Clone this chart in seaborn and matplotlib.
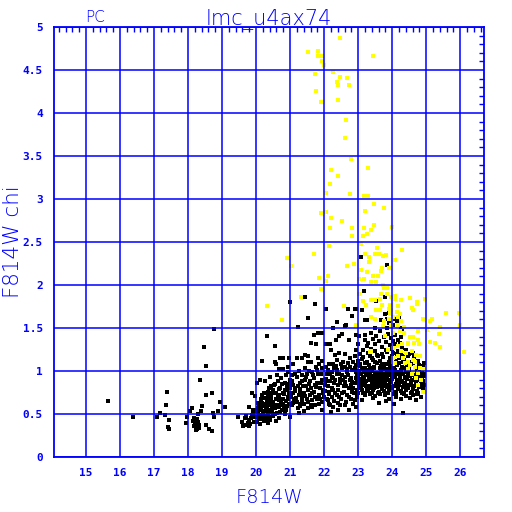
import matplotlib
matplotlib.use("Agg")
import matplotlib.pyplot as plt
from matplotlib.ticker import MultipleLocator, FixedLocator
import seaborn as sns
import pandas as pd

sns.set_style("white")
plt.rcParams['font.family'] = ['DejaVu Sans']

BLUE = "#0000ff"

# ---------------- data (F814W magnitude, chi) ----------------
black_bright = [
    (15.66, 0.655), (16.39, 0.47), (17.37, 0.76), (17.34, 0.61), (17.18, 0.51), (17.08, 0.47),
    (17.33, 0.49), (17.43, 0.43), (17.40, 0.35), (17.43, 0.33), (17.96, 0.47), (17.94, 0.40),
    (18.06, 0.53), (18.11, 0.57), (18.35, 0.895), (18.52, 0.72), (18.70, 0.75), (18.40, 0.59),
    (18.39, 0.54), (18.30, 0.50), (18.15, 0.42), (18.20, 0.38), (18.22, 0.35), (18.25, 0.33),
    (18.18, 0.45), (18.28, 0.41), (18.24, 0.31), (18.32, 0.37), (18.27, 0.44), (18.21, 0.40),
    (18.33, 0.34), (18.19, 0.36), (18.52, 0.375), (18.62, 0.325), (18.70, 0.305), (18.72, 0.51),
    (18.76, 0.465), (18.88, 0.535), (18.93, 0.64), (19.08, 0.58), (18.76, 1.49), (18.47, 1.28),
    (18.53, 1.06), (19.46, 0.46), (19.58, 0.41), (19.61, 0.36), (19.67, 0.45), (19.70, 0.48),
    (19.68, 0.37), (19.78, 0.36), (19.79, 0.58), (19.87, 0.74), (19.97, 0.71), (19.86, 0.45),
    (19.90, 0.50), (19.93, 0.41), (19.80, 0.43), (19.75, 0.40), (19.95, 0.47), (19.98, 0.55),
    (19.83, 0.38),
]

black_20_21 = [
    (20.31, 1.41), (20.56, 1.29), (20.80, 1.15), (20.71, 1.15), (20.98, 1.15), (20.56, 1.11),
    (20.58, 1.08), (20.18, 1.12), (20.66, 1.02), (20.80, 1.02), (20.95, 0.99), (20.61, 0.95),
    (20.41, 0.93), (20.26, 0.88), (20.12, 0.90), (20.02, 0.86), (20.22, 0.74),
    (20.36, 0.76), (20.51, 0.78), (20.71, 0.80), (20.85, 0.86), (21.00, 0.90), (20.95, 0.70),
    (20.80, 0.68), (20.66, 0.66), (20.51, 0.64), (20.36, 0.62), (20.22, 0.59), (20.07, 0.57),
    (19.92, 0.55), (19.87, 0.49), (20.02, 0.47), (20.17, 0.45), (20.31, 0.47), (20.41, 0.43),
    (20.61, 0.51), (20.75, 0.55), (20.90, 0.59), (20.66, 0.45), (21.00, 0.47), (20.80, 0.62),
    (20.05, 0.52), (20.10, 0.49), (20.15, 0.55), (20.20, 0.51), (20.25, 0.48), (20.30, 0.53),
    (20.35, 0.50), (20.12, 0.44), (20.04, 0.41), (20.22, 0.42), (20.28, 0.57), (20.40, 0.55),
    (20.45, 0.60), (20.48, 0.52), (20.55, 0.57), (20.58, 0.68), (20.62, 0.61), (20.68, 0.72),
    (20.72, 0.63), (20.78, 0.75), (20.82, 0.58), (20.88, 0.65), (20.92, 0.78), (20.96, 0.62),
    (20.44, 0.70), (20.33, 0.66), (20.18, 0.63), (20.09, 0.60), (20.52, 0.84), (20.64, 0.88),
    (20.74, 0.92), (20.88, 0.95), (20.95, 1.05), (20.38, 0.80), (20.27, 0.69), (20.15, 0.67),
    (20.50, 0.48), (20.70, 0.52), (20.85, 0.50), (20.12, 0.38), (20.35, 0.40), (20.58, 0.42),
    (20.90, 0.83), (20.60, 0.74), (20.45, 0.82),
]

black_fill_20_22 = [
    (20.03, 0.53), (20.08, 0.45), (20.13, 0.58), (20.19, 0.48), (20.24, 0.54), (20.29, 0.44),
    (20.33, 0.59), (20.38, 0.47), (20.43, 0.65), (20.47, 0.56), (20.53, 0.61), (20.57, 0.50),
    (20.63, 0.70), (20.67, 0.58), (20.73, 0.67), (20.77, 0.60), (20.83, 0.73), (20.87, 0.55),
    (20.93, 0.68), (20.97, 0.75), (20.06, 0.63), (20.16, 0.72), (20.26, 0.62), (20.36, 0.71),
    (20.46, 0.75), (20.56, 0.85), (20.66, 0.79), (20.76, 0.85), (20.86, 0.78), (20.96, 0.85),
    (21.03, 0.70), (21.08, 0.63), (21.13, 0.77), (21.18, 0.69), (21.23, 0.82), (21.28, 0.75),
    (21.33, 0.62), (21.38, 0.83), (21.43, 0.71), (21.47, 0.93), (21.52, 0.64), (21.57, 0.85),
    (21.63, 0.74), (21.67, 0.95), (21.72, 0.70), (21.77, 0.81), (21.82, 0.97), (21.87, 0.68),
    (21.92, 0.86), (21.97, 0.78), (21.05, 0.88), (21.15, 0.97), (21.35, 0.88), (21.55, 1.00),
    (21.65, 0.58), (21.85, 1.08), (21.42, 0.54), (21.22, 0.57),
]

black_21_23 = [
    (21.69, 1.42), (21.81, 1.44), (21.95, 1.44), (21.61, 1.32), (21.75, 1.31), (22.06, 1.31),
    (22.16, 1.31), (22.45, 1.41), (22.53, 1.43), (22.73, 1.36), (22.94, 1.42), (22.35, 1.36),
    (21.20, 1.15), (21.34, 1.15), (21.44, 1.19), (21.54, 1.17), (21.54, 1.11), (21.08, 1.08),
    (21.83, 1.15), (21.93, 1.12), (22.20, 1.24), (22.32, 1.19), (22.45, 1.21), (22.62, 1.20),
    (22.76, 1.15), (22.91, 1.17), (22.94, 1.24), (22.13, 1.08), (22.25, 1.08), (22.37, 1.13),
    (22.55, 1.11), (22.70, 1.09), (22.86, 1.11), (21.20, 0.93), (21.34, 0.95), (21.49, 0.97),
    (21.64, 0.99), (21.78, 1.01), (21.93, 1.03), (22.08, 0.97), (22.23, 0.99), (22.37, 1.01),
    (22.52, 1.03), (22.67, 0.99), (22.81, 1.01), (22.96, 0.97), (21.10, 0.84), (21.29, 0.86),
    (21.44, 0.90), (21.59, 0.88), (21.74, 0.84), (21.88, 0.80), (22.03, 0.84), (22.18, 0.88),
    (22.32, 0.90), (22.47, 0.91), (22.62, 0.93), (22.76, 0.90), (22.91, 0.86), (22.42, 0.84),
    (22.57, 0.82), (22.72, 0.80), (22.27, 0.78), (22.13, 0.76), (21.98, 0.74), (21.84, 0.72),
    (21.69, 0.76), (21.54, 0.78), (21.40, 0.74), (21.25, 0.72), (21.10, 0.74), (21.05, 0.60),
    (21.20, 0.64), (21.34, 0.66), (21.49, 0.68), (21.64, 0.66), (21.78, 0.68), (21.93, 0.64),
    (22.08, 0.68), (22.23, 0.70), (22.37, 0.72), (22.52, 0.74), (22.67, 0.72), (22.81, 0.76),
    (22.96, 0.70), (22.42, 0.55), (22.72, 0.55), (21.25, 0.51), (21.29, 0.59), (21.54, 0.57),
    (21.73, 0.60), (22.18, 0.60), (22.86, 0.62), (21.15, 0.80), (21.30, 0.79), (21.48, 0.82),
    (21.62, 0.80), (21.80, 0.86), (21.95, 0.90), (22.10, 0.83), (22.28, 0.86), (22.45, 0.96),
    (22.60, 0.87), (22.78, 0.84), (22.93, 0.92), (21.35, 0.70), (21.58, 0.72), (21.70, 0.92),
    (21.90, 0.96), (22.05, 0.91), (22.22, 0.93), (22.40, 0.78), (22.55, 0.89), (22.70, 0.95),
    (22.85, 0.80), (22.98, 0.78), (21.12, 0.68), (21.40, 0.62), (21.60, 0.61), (21.85, 0.62),
    (22.00, 0.70), (22.15, 0.73), (22.30, 0.65), (22.50, 0.68), (22.65, 0.64), (22.80, 0.68),
    (22.90, 1.03), (22.60, 1.05), (22.35, 1.06), (22.05, 1.05), (21.75, 1.05), (21.45, 1.03),
    (21.25, 1.00), (21.60, 1.10), (22.48, 0.60), (22.20, 0.52), (21.95, 0.55), (22.95, 0.58),
    (21.00, 0.80), (21.05, 0.95),
]

black_fill_22_23 = [
    (22.02, 0.77), (22.07, 0.88), (22.12, 0.66), (22.17, 0.96), (22.22, 0.80), (22.27, 0.92),
    (22.32, 0.74), (22.38, 0.97), (22.43, 0.70), (22.48, 0.86), (22.53, 0.95), (22.58, 0.76),
    (22.63, 0.83), (22.68, 1.02), (22.73, 0.70), (22.78, 0.92), (22.83, 0.87), (22.88, 0.74),
    (22.93, 0.99), (22.98, 0.88), (22.10, 1.01), (22.30, 1.03), (22.50, 1.08), (22.75, 1.05),
    (22.95, 1.07), (22.40, 0.63), (22.60, 0.60), (22.90, 0.66), (22.15, 0.62), (22.25, 0.58),
]

black_sparse_high = [
    (21.44, 1.86), (21.00, 1.80), (21.74, 1.78), (22.06, 1.72), (22.69, 1.72), (22.91, 1.72),
    (22.81, 1.64), (21.52, 1.62), (22.38, 1.57), (22.65, 1.53), (22.60, 1.52), (21.23, 1.51),
    (22.25, 1.50), (23.08, 2.33), (23.86, 2.23), (23.17, 1.93), (23.54, 1.81), (23.80, 1.86),
    (23.10, 1.71), (22.93, 1.72), (23.90, 1.68), (23.78, 1.66), (23.84, 1.60), (23.67, 1.59),
    (23.25, 1.59), (23.20, 1.59), (24.08, 1.60), (24.13, 1.58), (24.21, 1.62), (23.90, 1.56),
    (24.03, 1.54), (23.49, 1.50), (23.86, 1.50), (24.25, 1.50),
]

black_core = [
    (23.05, 1.08), (23.31, 1.07), (23.56, 1.09), (23.71, 1.08), (23.94, 1.06), (24.21, 1.09),
    (24.44, 1.07), (24.61, 1.08), (24.86, 1.06), (23.11, 1.04), (23.21, 1.03), (23.46, 1.05),
    (23.63, 1.04), (23.79, 1.02), (24.06, 1.04), (24.29, 1.05), (24.51, 1.03), (24.69, 1.04),
    (24.91, 1.05), (23.02, 1.00), (23.16, 0.99), (23.28, 1.01), (23.41, 1.00), (23.52, 0.98),
    (23.68, 1.01), (23.86, 0.99), (23.97, 1.00), (24.12, 0.98), (24.26, 1.01), (24.41, 0.99),
    (24.56, 1.00), (24.73, 0.98), (24.88, 1.01), (23.08, 0.97), (23.23, 0.96), (23.35, 0.98),
    (23.49, 0.97), (23.61, 0.95), (23.75, 0.97), (23.91, 0.96), (24.03, 0.98), (24.17, 0.96),
    (24.33, 0.97), (24.48, 0.95), (24.63, 0.97), (24.81, 0.96), (24.95, 0.94), (23.00, 0.94),
    (23.13, 0.93), (23.26, 0.95), (23.39, 0.94), (23.55, 0.92), (23.70, 0.94), (23.82, 0.93),
    (23.95, 0.95), (24.09, 0.93), (24.22, 0.94), (24.37, 0.92), (24.52, 0.94), (24.67, 0.93),
    (24.84, 0.92), (23.05, 0.91), (23.18, 0.90), (23.33, 0.91), (23.45, 0.89), (23.58, 0.91),
    (23.73, 0.90), (23.88, 0.89), (24.00, 0.91), (24.15, 0.90), (24.28, 0.88), (24.43, 0.91),
    (24.58, 0.89), (24.74, 0.90), (24.91, 0.88), (23.10, 0.87), (23.24, 0.88), (23.40, 0.86),
    (23.52, 0.87), (23.66, 0.88), (23.80, 0.86), (23.93, 0.87), (24.10, 0.85), (24.25, 0.87),
    (24.38, 0.86), (24.55, 0.88), (24.70, 0.86), (24.86, 0.87), (23.02, 0.85), (23.15, 0.84),
    (23.30, 0.83), (23.48, 0.85), (23.62, 0.84), (23.78, 0.83), (23.90, 0.84), (24.05, 0.82),
    (24.20, 0.84), (24.35, 0.83), (24.50, 0.84), (24.65, 0.82), (24.80, 0.83), (24.95, 0.84),
    (23.08, 0.81), (23.22, 0.82), (23.38, 0.80), (23.55, 0.81), (23.70, 0.79), (23.85, 0.81),
    (24.00, 0.80), (24.18, 0.79), (24.32, 0.81), (24.48, 0.80), (24.62, 0.79), (24.78, 0.81),
    (23.12, 0.78), (23.30, 0.77), (23.45, 0.78), (23.60, 0.76), (23.76, 0.77), (23.92, 0.78),
    (24.08, 0.76), (24.25, 0.77), (24.42, 0.78), (24.58, 0.76), (24.72, 0.77), (24.90, 0.79),
    (23.00, 0.75), (23.20, 0.74), (23.42, 0.75), (23.65, 0.73), (23.88, 0.74), (24.12, 0.75),
    (24.35, 0.73), (24.55, 0.74), (24.76, 0.75), (23.20, 0.72), (23.50, 0.71), (23.80, 0.72),
    (24.10, 0.70), (24.40, 0.71), (24.62, 0.72), (24.85, 0.70), (23.44, 0.69), (23.90, 0.68),
    (24.52, 0.69), (23.10, 0.66), (23.83, 0.65), (24.27, 0.67), (24.70, 0.66), (23.60, 0.63),
    (24.05, 0.62), (24.32, 0.51), (23.00, 1.12), (23.25, 1.11), (23.44, 1.13), (23.65, 1.12),
    (23.90, 1.10), (24.10, 1.12), (24.35, 1.13), (24.55, 1.11), (24.75, 1.12), (23.15, 1.16),
    (23.40, 1.15), (23.59, 1.17), (23.74, 1.16), (24.00, 1.18), (24.20, 1.15), (24.47, 1.17),
    (24.65, 1.16), (23.05, 1.20), (23.30, 1.21), (23.55, 1.19), (23.85, 1.22), (24.03, 1.21),
    (24.27, 1.19), (24.50, 1.20), (23.15, 1.25), (23.38, 1.26), (23.83, 1.25), (24.18, 1.23),
    (24.40, 1.24), (23.00, 1.31), (23.29, 1.33), (23.49, 1.31), (23.93, 1.30), (24.08, 1.31),
    (24.23, 1.33), (23.20, 1.36), (23.60, 1.35), (23.83, 1.34), (24.18, 1.36), (23.02, 1.41),
    (23.39, 1.44), (23.54, 1.41), (23.88, 1.43), (24.08, 1.42), (23.98, 1.38), (23.64, 1.46),
    (23.20, 1.42), (24.30, 1.46),
]

black_fill_23_25 = [
    (23.03, 0.96), (23.07, 0.88), (23.12, 1.02), (23.17, 0.92), (23.21, 0.85), (23.27, 0.98),
    (23.32, 0.89), (23.36, 0.82), (23.43, 0.92), (23.47, 1.03), (23.51, 0.94), (23.57, 0.86),
    (23.63, 0.98), (23.67, 0.91), (23.72, 0.85), (23.77, 1.05), (23.81, 0.96), (23.86, 0.91),
    (23.92, 1.02), (23.98, 0.87), (24.02, 0.95), (24.07, 1.01), (24.13, 0.88), (24.19, 0.99),
    (24.24, 0.91), (24.30, 0.96), (24.34, 0.85), (24.39, 1.03), (24.45, 0.93), (24.50, 0.98),
    (24.54, 0.86), (24.60, 0.95), (24.66, 0.99), (24.71, 0.88), (24.77, 0.94), (24.83, 0.99),
    (24.89, 0.93), (24.94, 0.97), (23.04, 0.80), (23.14, 0.75), (23.26, 0.79), (23.36, 0.73),
    (23.47, 0.80), (23.58, 0.74), (23.68, 0.82), (23.79, 0.75), (23.94, 0.81), (24.04, 0.73),
    (24.16, 0.82), (24.29, 0.74), (24.46, 0.83), (24.60, 0.81), (24.74, 0.73), (24.88, 0.82),
    (23.06, 1.06), (23.19, 1.09), (23.34, 1.04), (23.50, 1.10), (23.66, 1.06), (23.83, 1.08),
    (23.99, 1.04), (24.15, 1.07), (24.31, 1.10), (24.48, 1.05), (24.64, 1.10), (24.80, 1.07),
    (24.93, 1.09), (23.10, 1.14), (23.35, 1.18), (23.50, 1.23), (23.70, 1.20), (23.95, 1.15),
    (24.13, 1.20), (24.32, 1.18), (24.60, 1.21), (23.25, 1.29), (23.70, 1.28), (24.00, 1.26),
    (24.30, 1.27), (23.45, 1.37), (23.75, 1.40), (24.02, 1.35), (24.25, 1.40),
]

yellow_high = [
    (22.48, 4.87), (21.52, 4.71), (21.81, 4.72), (21.81, 4.66), (21.93, 4.66), (21.93, 4.61),
    (21.99, 4.56), (23.45, 4.66), (22.25, 4.48), (21.72, 4.45), (22.46, 4.42), (22.66, 4.41),
    (22.37, 4.36), (22.72, 4.33), (22.42, 4.32), (21.75, 4.26), (21.91, 4.13), (22.42, 4.15),
    (22.64, 3.92), (22.61, 3.71), (22.80, 3.47), (23.29, 3.36), (22.19, 3.34), (22.41, 3.27),
    (22.17, 3.17), (22.07, 3.07), (22.77, 3.06), (23.17, 3.03), (23.28, 3.03), (23.46, 2.94),
    (23.75, 2.90), (21.90, 2.84), (22.05, 2.85), (23.21, 2.86), (22.19, 2.78), (22.54, 2.75),
    (22.17, 2.66), (22.83, 2.66), (23.17, 2.66), (23.46, 2.70), (24.01, 2.68),
]

yellow_mid = [
    (22.82, 2.57), (22.13, 2.45), (21.71, 2.36), (20.90, 2.31), (21.02, 2.22), (22.67, 2.22),
    (22.88, 2.25), (22.12, 2.10), (21.84, 2.08), (22.06, 2.05), (23.02, 2.07), (21.90, 1.95),
    (23.02, 1.89), (21.31, 1.86), (20.31, 1.76), (22.59, 1.76), (20.75, 1.59), (22.96, 1.53),
    (23.39, 2.64), (23.26, 2.59), (23.14, 2.57), (23.08, 2.48), (23.55, 2.43), (24.30, 2.41),
    (23.19, 2.36), (23.51, 2.36), (23.62, 2.36), (23.74, 2.34), (23.82, 2.35), (23.31, 2.32),
    (23.31, 2.27), (24.09, 2.29), (23.70, 2.20), (23.91, 2.20), (23.66, 2.16), (23.08, 2.18),
    (23.25, 2.15), (23.44, 2.11), (23.03, 2.07), (23.17, 2.07), (23.57, 2.10), (23.37, 2.03),
    (23.54, 2.03), (23.72, 2.00), (23.76, 1.96), (23.86, 1.96), (23.67, 1.90), (23.86, 1.90),
    (23.39, 1.83), (23.50, 1.83), (23.14, 1.81), (23.65, 1.84), (23.96, 1.86), (24.08, 1.87),
    (24.08, 1.84), (24.27, 1.83), (24.52, 1.85), (24.72, 1.80), (24.72, 1.78), (24.96, 1.84),
    (23.23, 1.77), (23.69, 1.77), (23.95, 1.77), (24.16, 1.76), (24.57, 1.73), (24.62, 1.71),
    (23.52, 1.71), (23.65, 1.71), (23.90, 1.72), (23.93, 1.67), (23.98, 1.71), (24.15, 1.69),
    (24.23, 1.66), (24.18, 1.63), (24.03, 1.63), (23.39, 1.63), (23.49, 1.60), (23.77, 1.58),
    (23.91, 1.60), (23.73, 1.52), (23.96, 1.53), (24.16, 1.53), (24.27, 1.58), (24.35, 1.51),
    (24.91, 1.61), (25.11, 1.58), (25.16, 1.60), (25.57, 1.68), (25.96, 1.68), (25.99, 1.54),
    (22.95, 1.53),
]

yellow_low = [
    (23.80, 1.41), (24.03, 1.44), (24.23, 1.46), (24.35, 1.44), (24.52, 1.40), (24.62, 1.40),
    (24.76, 1.36), (24.78, 1.31), (24.65, 1.33), (24.47, 1.31), (24.30, 1.31), (24.18, 1.29),
    (24.03, 1.27), (23.88, 1.25), (24.27, 1.23), (24.42, 1.21), (24.57, 1.23), (24.71, 1.19),
    (24.81, 1.17), (24.62, 1.13), (24.47, 1.11), (24.32, 1.15), (24.18, 1.17), (24.03, 1.15),
    (24.08, 1.09), (24.52, 1.07), (24.67, 1.05), (24.81, 1.03), (24.91, 1.02), (24.62, 1.00),
    (24.76, 0.98), (24.71, 0.92), (24.86, 0.90), (24.76, 0.84), (24.91, 0.76), (23.39, 1.23),
    (23.34, 1.22), (24.76, 1.46), (25.01, 1.48), (25.37, 1.43), (25.25, 1.33), (25.40, 1.28),
    (25.11, 1.34), (26.12, 1.22), (24.47, 1.33), (24.37, 1.09), (24.57, 0.96), (24.47, 1.02),
    (24.67, 1.11), (25.40, 1.51),
]

x_ticks = list(range(15, 27))
y_ticks = [0, 0.5, 1, 1.5, 2, 2.5, 3, 3.5, 4, 4.5, 5]

# ---------------- build frames ----------------
black = pd.DataFrame(black_bright + black_20_21 + black_fill_20_22 + black_21_23
                     + black_fill_22_23 + black_sparse_high + black_core + black_fill_23_25,
                     columns=["F814W", "chi"])
yellow = pd.DataFrame(yellow_high + yellow_mid + yellow_low, columns=["F814W", "chi"])

fig = plt.figure(figsize=(5.12, 5.12), dpi=100)
ax = fig.add_axes([54 / 512, 55 / 512, 430 / 512, 430 / 512])

sns.scatterplot(data=black, x="F814W", y="chi", ax=ax, color="black", marker="s",
                s=5.5, linewidth=0, zorder=1)
sns.scatterplot(data=yellow, x="F814W", y="chi", ax=ax, color="#ffff00", marker="s",
                s=5.5, linewidth=0, zorder=1.5)

ax.set_xlim(14.06, 26.7)
ax.set_ylim(0, 5)

ax.xaxis.set_major_locator(FixedLocator(x_ticks))
ax.yaxis.set_major_locator(FixedLocator(y_ticks))
ax.xaxis.set_minor_locator(MultipleLocator(0.2))
ax.yaxis.set_minor_locator(MultipleLocator(0.1))
ax.set_xticklabels([str(v) for v in x_ticks])
ax.set_yticklabels([f"{v:g}" for v in y_ticks])

ax.set_axisbelow(False)
ax.grid(True, which="major", color=BLUE, linewidth=1.1, zorder=3)
for sp in ax.spines.values():
    sp.set_color(BLUE)
    sp.set_linewidth(1.3)
    sp.set_zorder(4)

ax.tick_params(which="both", direction="in", top=True, right=True, colors=BLUE,
               labelcolor=BLUE, width=1.0)
ax.tick_params(which="major", length=0, labelsize=8, pad=8)
ax.tick_params(which="minor", length=3.5)
for lab in ax.get_xticklabels() + ax.get_yticklabels():
    lab.set_fontweight("bold")
    lab.set_family("DejaVu Sans Mono")

ax.set_xlabel("F814W", color=BLUE, fontsize=14, fontweight="light")
ax.set_ylabel("F814W chi", color=BLUE, fontsize=15.5, fontweight="light")
ax.xaxis.set_label_coords(0.5, -0.072)
ax.yaxis.set_label_coords(-0.072, 0.5)
ax.set_title("lmc_u4ax74", color=BLUE, fontsize=15, fontweight="light", pad=2)
ax.text(95 / 512, 1 - 18 / 512, "PC", transform=fig.transFigure, color=BLUE,
        fontsize=11, fontweight="light", ha="center", va="center")

fig.savefig("out.png", dpi=100)
